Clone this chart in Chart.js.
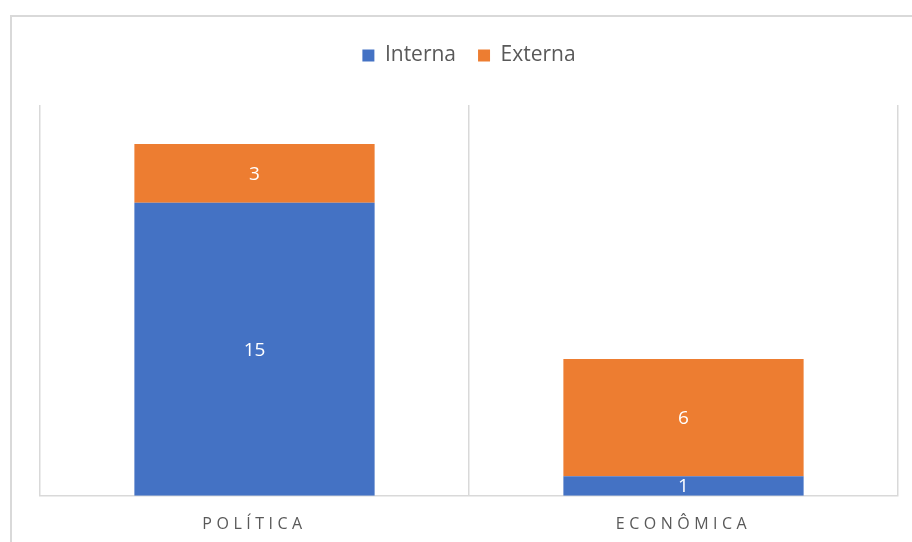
<!DOCTYPE html>
<html>
<head>
<meta charset="utf-8">
<script src="https://cdn.jsdelivr.net/npm/chart.js@4.4.0/dist/chart.umd.min.js"></script>
<style>
	html, body { margin: 0; padding: 0; background: #fff; overflow: hidden; }
	#frame { position: absolute; left: 10px; top: 15px; width: 910px; height: 540px; border-left: 2px solid #d9d9d9; border-top: 2px solid #d9d9d9; }
	#wrap { position: absolute; left: 0; top: 0; width: 912px; height: 542px; }
</style>
</head>
<body>
<div id="frame"></div>
<div id="wrap"><canvas id="chartcanvas"></canvas></div>
<script>
// chart data
const categories = ["POLÍTICA", "ECONÔMICA"];
const interna = [15, 1];
const externa = [3, 6];
const yMax = 20;

// white value labels inside each bar piece, then spaced letters for the x labels
const barLabels = {
	id : "barLabels",
	beforeInit : function(chart) {
		// extra room under the legend
		let fit = chart.legend.fit;
		chart.legend.fit = function() {
			fit.call(this);
			this.height += 29;
		};
	},
	afterDatasetsDraw : function(chart) {
		let ctx = chart.ctx;
		ctx.save();
		ctx.font = "19px 'Open Sans'";
		ctx.fillStyle = "#ffffff";
		ctx.textAlign = "center";
		ctx.textBaseline = "middle";
		chart.data.datasets.forEach(function(ds, i) {
			let meta = chart.getDatasetMeta(i);
			meta.data.forEach(function(bar, j) {
				ctx.fillText(String(ds.data[j]), bar.x, (bar.y + bar.base) / 2 + 1);
			});
		});
		ctx.restore();
		ctx.letterSpacing = "4.5px";
	},
	afterDraw : function(chart) {
		chart.ctx.letterSpacing = "0px";
	}
};

let ctx = document.getElementById("chartcanvas");
let chart = new Chart(ctx, {
	type : "bar",
	data : {
		labels : categories,
		datasets : [
			{
				label : "Interna",
				data : interna,
				backgroundColor : "#4472c4",
				borderWidth : 0
			},
			{
				label : "Externa",
				data : externa,
				backgroundColor : "#ed7d31",
				borderWidth : 0
			}
		]
	},
	options : {
		responsive : true,
		maintainAspectRatio : false,
		animation : false,
		categoryPercentage : 0.56,
		barPercentage : 1,
		layout : {
			padding : { left : 40, right : 14, top : 23, bottom : -11 }
		},
		plugins : {
			legend : {
				position : "top",
				labels : {
					boxWidth : 12,
					boxHeight : 12,
					padding : 22,
					color : "#595959",
					font : { family : "'Open Sans'", size : 21 }
				}
			},
			tooltip : { enabled : false }
		},
		scales : {
			x : {
				stacked : true,
				grid : { color : "#d9d9d9", lineWidth : 1.5, drawTicks : false, offset : true },
				border : { color : "#d9d9d9", width : 1.5 },
				ticks : {
					z : 1,
					color : "#595959",
					padding : 19,
					font : { family : "'Open Sans'", size : 16 }
				}
			},
			y : {
				stacked : true,
				display : false,
				min : 0,
				max : yMax
			}
		}
	},
	plugins : [barLabels]
});
</script>
</body>
</html>
